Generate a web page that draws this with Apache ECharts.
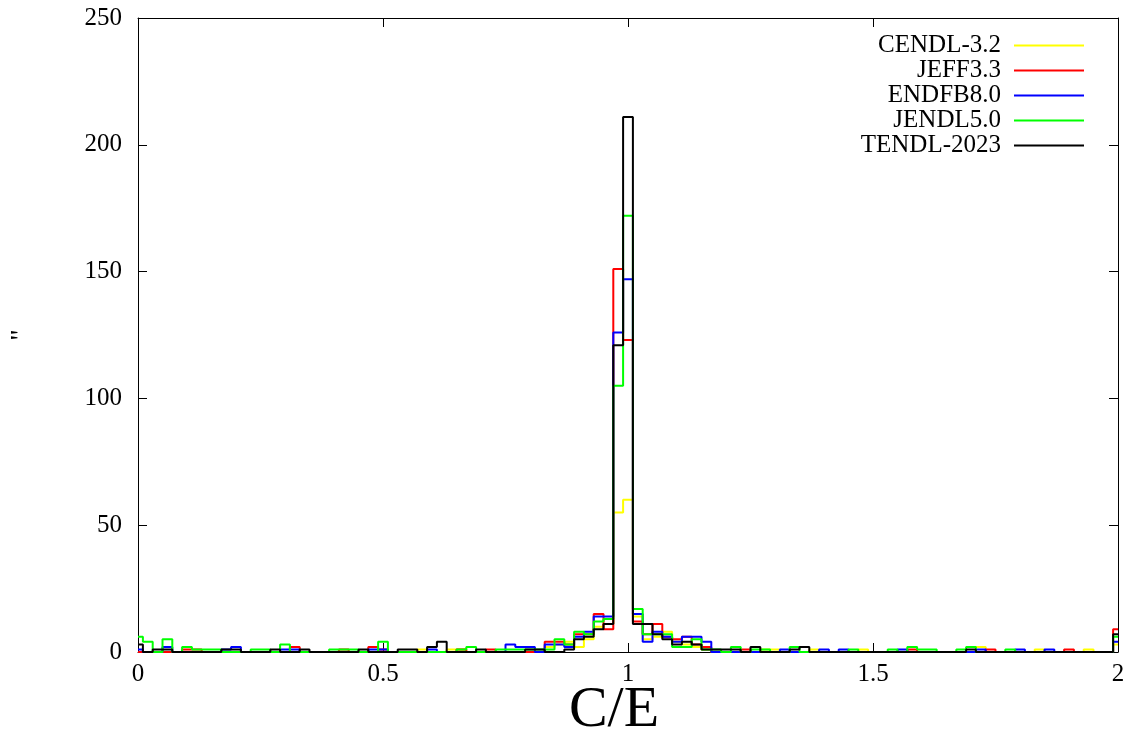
<!DOCTYPE html>
<html>
<head>
<meta charset="utf-8">
<script src="https://cdn.jsdelivr.net/npm/echarts@6/dist/echarts.min.js"></script>
<style>
html,body{margin:0;padding:0;background:#fff;}
#chart{width:1130px;height:738px;}
</style>
</head>
<body>
<div id="chart"></div>
<script>
// Histogram bins: centers at 0, 0.02, ..., 2.00 (101 bins)
const binWidth = 0.02;
const seriesNames = ["CENDL-3.2", "JEFF3.3", "ENDFB8.0", "JENDL5.0", "TENDL-2023"];
const seriesColors = ["#ffff00", "#ff0000", "#0000ff", "#00ff00", "#000000"];
const xTicks = [0, 0.5, 1, 1.5, 2];
const yTicks = [0, 50, 100, 150, 200, 250];

// counts per bin, index k -> C/E = k*0.02
const cendl = [
 0,0,0,0,0,0,0,0,0,0,
 0,0,0,0,0,0,0,0,0,0,
 0,0,0,0,0,0,0,0,0,1,
 0,0,1,1,0,0,0,0,0,0,
 0,0,2,3,4,2,5,10,11,55,
 60,14,5,6,8,4,3,2,1,0,
 0,0,0,0,1,1,0,0,0,1,
 0,0,0,0,1,0,0,0,0,0,
 0,0,0,0,0,0,2,0,0,0,
 0,0,1,0,0,0,0,1,0,0,
 3];
const jeff = [
 0,0,0,0,0,1,1,0,0,0,
 0,0,0,0,0,0,2,0,0,0,
 0,1,0,0,2,1,0,0,0,0,
 0,0,0,1,0,0,1,0,0,0,
 0,0,4,4,3,7,7,15,9,151,
 123,12,7,11,6,5,6,3,2,0,
 0,0,1,0,0,0,0,0,0,0,
 0,0,0,0,0,0,0,0,0,1,
 0,0,0,0,0,0,0,1,0,0,
 0,0,0,0,0,1,0,0,0,0,
 9];
const endfb = [
 1,0,0,2,0,0,0,0,0,1,
 2,0,0,0,0,1,1,0,0,0,
 0,0,0,0,1,1,0,0,0,0,
 1,0,0,0,0,0,0,0,3,2,
 2,0,3,3,2,6,8,14,14,126,
 147,15,4,8,6,4,6,6,4,0,
 0,0,0,0,0,0,1,0,0,0,
 1,0,1,0,0,0,0,0,1,0,
 0,0,0,0,0,0,1,0,0,0,
 1,0,0,1,0,0,0,0,0,0,
 4];
const jendl = [
 6,4,0,5,0,2,1,1,1,0,
 0,0,1,1,0,3,0,0,0,0,
 1,1,1,0,0,4,0,0,0,0,
 0,0,0,1,2,0,0,1,1,1,
 1,1,1,5,3,8,7,12,13,105,
 172,17,7,7,7,2,2,5,1,1,
 0,2,0,1,1,0,0,2,0,0,
 0,0,0,1,0,0,0,1,0,2,
 1,1,0,0,1,2,0,0,0,1,
 0,0,0,0,0,0,0,0,0,0,
 6];
const tendl = [
 3,0,1,1,0,0,0,0,0,1,
 1,0,0,0,1,0,0,1,0,0,
 0,0,0,1,0,0,0,1,1,0,
 2,4,0,0,0,1,0,0,0,0,
 1,1,0,0,1,5,6,9,11,121,
 211,11,11,7,5,3,4,3,1,1,
 1,1,0,2,0,0,0,1,2,0,
 0,0,0,0,0,0,0,0,0,0,
 0,0,0,0,0,1,0,0,0,0,
 0,0,0,0,0,0,0,0,0,0,
 7];
const seriesValues = [cendl, jeff, endfb, jendl, tendl];

const FONT = "'Liberation Serif', 'DejaVu Serif', serif";

function toPairs(arr){ return arr.map((v,k)=>[+(k*binWidth).toFixed(2), v]); }

const chart = echarts.init(document.getElementById('chart'), null, {renderer:'canvas'});
const axisCommon = {
  axisLine:{show:true, onZero:false, lineStyle:{color:'#000', width:1}},
  axisTick:{show:true, inside:true, length:9, lineStyle:{color:'#000', width:1}},
  splitLine:{show:false}
};
chart.setOption({
  animation:false,
  backgroundColor:'#fff',
  grid:{left:138, right:12, top:18, bottom:86, show:false, outerBoundsMode:'none', containLabel:false},
  legend:{
    orient:'vertical', right:41, top:28, align:'right',
    icon:'rect', itemWidth:70, itemHeight:2, itemGap:0,
    textStyle:{fontFamily:FONT, fontSize:25, color:'#000', padding:[0,8,0,0]},
    data:seriesNames
  },
  xAxis:[
    Object.assign({type:'value', min:0, max:2, interval:0.5, position:'bottom',
      name:'C/E', nameLocation:'middle', nameGap:30, nameMoveOverlap:false,
      nameTextStyle:{fontFamily:FONT, fontSize:58, color:'#000', padding:[0,28,0,0]},
      axisLabel:{fontFamily:FONT, fontSize:25, color:'#000', margin:10}
    }, axisCommon),
    Object.assign({type:'value', min:0, max:2, interval:0.5, position:'top',
      axisLabel:{show:false}}, axisCommon)
  ],
  yAxis:[
    Object.assign({type:'value', min:0, max:250, interval:50, position:'left',
      name:'"', nameLocation:'middle', nameGap:102, nameRotate:90, nameMoveOverlap:false,
      nameTextStyle:{fontFamily:FONT, fontSize:28, color:'#000'},
      axisLabel:{fontFamily:FONT, fontSize:25, color:'#000', margin:16}
    }, axisCommon),
    Object.assign({type:'value', min:0, max:250, interval:50, position:'right',
      axisLabel:{show:false}}, axisCommon)
  ],
  series: seriesNames.map((name,i)=>({
    name:name, type:'line', step:'middle', symbol:'none', showSymbol:false,
    xAxisIndex:0, yAxisIndex:0,
    data: toPairs(seriesValues[i]),
    lineStyle:{color:seriesColors[i], width:2},
    itemStyle:{color:seriesColors[i]},
    clip:true
  }))
});
</script>
</body>
</html>
